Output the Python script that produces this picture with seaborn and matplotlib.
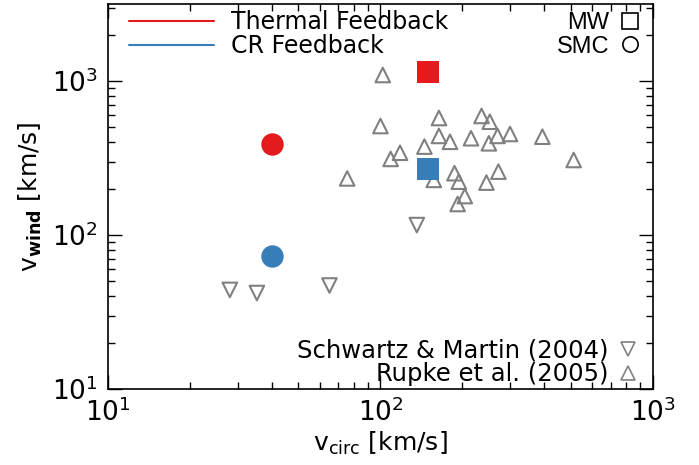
import numpy as np
import pandas as pd
import seaborn as sns
import matplotlib.pyplot as plt
from matplotlib.lines import Line2D
from matplotlib.ticker import LogLocator, NullFormatter

# simulações (MW e SMC)
sim_vcirc = [150, 40]
thermal_vwind = [1143, 390]
cr_vwind = [268, 73]

# Rupke et al. (2005)
rupke_vcirc = [102, 164, 100, 235, 252, 164, 180, 215, 269, 250, 299, 393, 512,
               145, 118, 109, 75.5, 157, 187, 194, 271, 245, 204, 192]
rupke_vwind = [1094, 575, 510, 593, 544, 440, 403, 425, 440, 394, 453, 435, 307,
               375, 342, 312, 233, 228, 252, 222, 258, 219, 179, 159]

# Schwartz & Martin (2004)
sm_vcirc = [136, 28, 35.2, 65]
sm_vwind = [116, 44, 42, 47]

vermelho = '#E41A1C'
azul = '#377EB8'
cinza = '#808080'

sns.set_style('ticks')
plt.rcParams['font.family'] = ['DejaVu Sans']
plt.rcParams['mathtext.fontset'] = 'dejavusans'
plt.rcParams['xtick.direction'] = 'in'
plt.rcParams['ytick.direction'] = 'in'
plt.rcParams['text.color'] = 'black'
plt.rcParams['axes.labelcolor'] = 'black'
plt.rcParams['xtick.color'] = 'black'
plt.rcParams['ytick.color'] = 'black'

fig = plt.figure(figsize=(6.99, 4.65), dpi=100)
ax = fig.add_axes([0.1545, 0.1634, 0.7795, 0.828])

sns.scatterplot(x=rupke_vcirc, y=rupke_vwind, marker='^', s=110, facecolor='none',
                edgecolor=cinza, linewidth=1.5, ax=ax)
sns.scatterplot(x=sm_vcirc, y=sm_vwind, marker='v', s=110, facecolor='none',
                edgecolor=cinza, linewidth=1.5, ax=ax)
sns.scatterplot(x=sim_vcirc[:1], y=thermal_vwind[:1], marker='s', s=250, color=vermelho,
                linewidth=0, ax=ax)
sns.scatterplot(x=sim_vcirc[1:], y=thermal_vwind[1:], marker='o', s=260, color=vermelho,
                linewidth=0, ax=ax)
sns.scatterplot(x=sim_vcirc[:1], y=cr_vwind[:1], marker='s', s=250, color=azul,
                linewidth=0, ax=ax)
sns.scatterplot(x=sim_vcirc[1:], y=cr_vwind[1:], marker='o', s=260, color=azul,
                linewidth=0, ax=ax)

ax.set_xscale('log')
ax.set_yscale('log')
ax.set_xlim(10, 1000)
ax.set_ylim(10, 10**3.5)

for a in (ax.xaxis, ax.yaxis):
    a.set_major_locator(LogLocator(base=10, numticks=10))
    a.set_minor_locator(LogLocator(base=10, subs=np.arange(2, 10), numticks=20))
    a.set_minor_formatter(NullFormatter())
ax.tick_params(which='both', top=True, right=True, labelsize=19, width=1)
ax.tick_params(which='major', length=10, pad=7)
ax.tick_params(which='minor', length=5)
for s in ax.spines.values():
    s.set_linewidth(1.2)
    s.set_color('black')

ax.set_xlabel(r'$\mathregular{v_{circ}}$ [km/s]', fontsize=18, labelpad=2)
ax.set_ylabel(r'$\mathregular{v_{\mathbf{wind}}}$ [km/s]', fontsize=18, labelpad=6)

# legendas
linhas = [Line2D([], [], color=vermelho, lw=1.5), Line2D([], [], color=azul, lw=1.5)]
leg1 = ax.legend(linhas, ['Thermal Feedback', 'CR Feedback'], loc='upper left',
                 bbox_to_anchor=(0.0, 1.04), frameon=False, fontsize=17,
                 handlelength=3.6, handletextpad=0.7, labelspacing=0.0)
ax.add_artist(leg1)

formas = [Line2D([], [], marker='s', ls='none', mfc='none', mec='black', ms=11, mew=1.2),
          Line2D([], [], marker='o', ls='none', mfc='none', mec='black', ms=11, mew=1.2)]
leg2 = ax.legend(formas, ['MW', 'SMC'], loc='upper right', bbox_to_anchor=(1.015, 1.035),
                 frameon=False, markerfirst=False, handlelength=0.8, handletextpad=0.5,
                 labelspacing=0.08, prop={'family': 'Liberation Sans', 'size': 17})
ax.add_artist(leg2)

obs = [Line2D([], [], marker='v', ls='none', mfc='none', mec=cinza, ms=10, mew=1.2),
       Line2D([], [], marker='^', ls='none', mfc='none', mec=cinza, ms=10, mew=1.2)]
ax.legend(obs, ['Schwartz & Martin (2004)', 'Rupke et al. (2005)'], loc='lower right',
          bbox_to_anchor=(1.012, -0.05), frameon=False, markerfirst=False, fontsize=17.5,
          handlelength=0.8, handletextpad=0.4, labelspacing=0.0)

fig.savefig('out.png', dpi=100)
